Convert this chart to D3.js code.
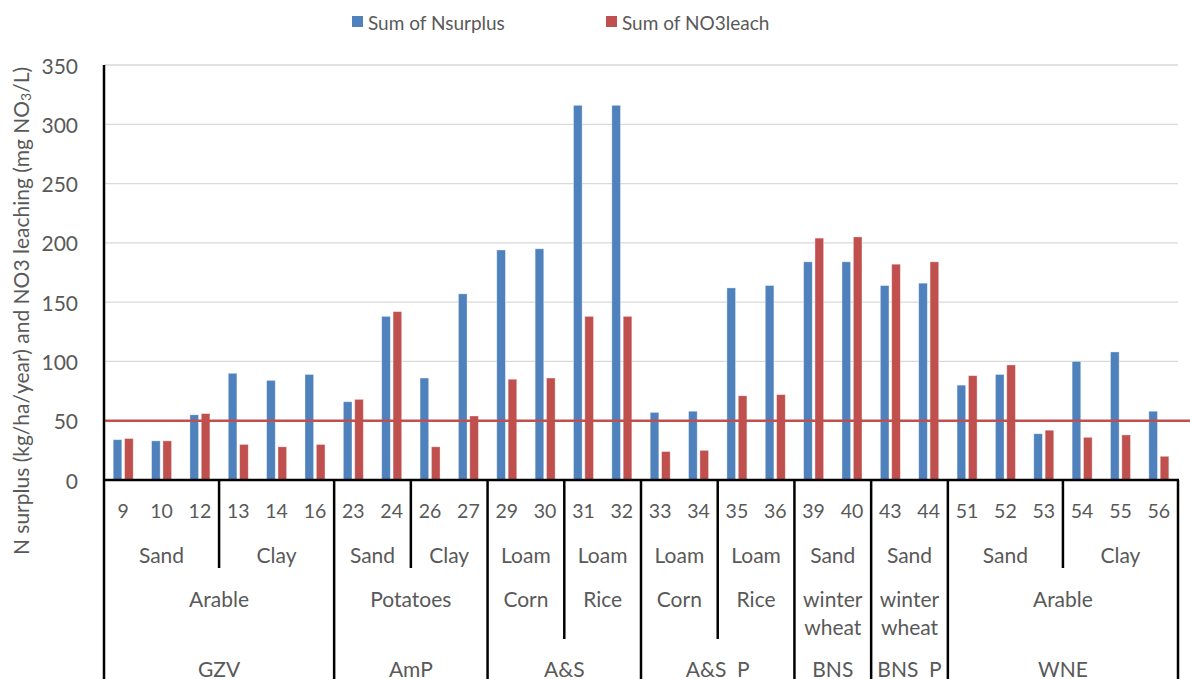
<html><head>
<title>N surplus and NO3 leaching</title>
<script src="https://d3js.org/d3.v7.min.js"></script>
<style>
  body { margin: 0; background: #fff; }
  svg text { font-family: Lato, "Open Sans", sans-serif; fill: #595959; }
</style>
</head>
<body>
<svg id="chart" width="1190" height="679"></svg>
<script>
// categories (one per bar pair) and their grouping levels
let ids     = ["9","10","12","13","14","16","23","24","26","27","29","30","31","32","33","34","35","36","39","40","43","44","51","52","53","54","55","56"];
let soils   = ["Sand","Sand","Sand","Clay","Clay","Clay","Sand","Sand","Clay","Clay","Loam","Loam","Loam","Loam","Loam","Loam","Loam","Loam","Sand","Sand","Sand","Sand","Sand","Sand","Sand","Clay","Clay","Clay"];
let crops   = ["Arable","Arable","Arable","Arable","Arable","Arable","Potatoes","Potatoes","Potatoes","Potatoes","Corn","Corn","Rice","Rice","Corn","Corn","Rice","Rice","winter wheat","winter wheat","winter wheat","winter wheat","Arable","Arable","Arable","Arable","Arable","Arable"];
let regions = ["GZV","GZV","GZV","GZV","GZV","GZV","AmP","AmP","AmP","AmP","A&S","A&S","A&S","A&S","A&S  P","A&S  P","A&S  P","A&S  P","BNS","BNS","BNS  P","BNS  P","WNE","WNE","WNE","WNE","WNE","WNE"];

// series values
let nsurplus = [34,33,55,90,84,89,66,138,86,157,194,195,316,316,57,58,162,164,184,184,164,166,80,89,39,100,108,58];
let no3leach = [35,33,56,30,28,30,68,142,28,54,85,86,138,138,24,25,71,72,204,205,182,184,88,97,42,36,38,20];
let limitValue = 50;

let seriesNames = ["Sum of Nsurplus", "Sum of NO3leach"];
let seriesColors = ["#4F81BD", "#C0504D"];
let yTicks = [0,50,100,150,200,250,300,350];

let svg = d3.select("#chart");

let plotLeft = 104, plotRight = 1178, plotTop = 65, plotBottom = 480;

let x0 = d3.scaleBand().domain(d3.range(ids.length)).range([plotLeft, plotRight]);
let x1 = d3.scaleBand().domain([0, 1]).range([9.2, 29.2]).paddingInner(0.24);
let y = d3.scaleLinear().domain([0, 350]).range([plotBottom, plotTop]);

// gridlines
svg.append("g").selectAll("line").data(yTicks.slice(1)).join("line")
    .attr("x1", plotLeft).attr("x2", plotRight)
    .attr("y1", d => y(d)).attr("y2", d => y(d))
    .attr("stroke", "#D9D9D9").attr("stroke-width", 1.3);

// y tick labels
svg.append("g").selectAll("text").data(yTicks).join("text")
    .attr("x", 78).attr("y", d => y(d))
    .attr("text-anchor", "end").attr("dominant-baseline", "central")
    .style("font-size", "21px")
    .text(d => d);

// bars
let rows = ids.map((id, i) => ({i: i, vals: [nsurplus[i], no3leach[i]]}));
let groups = svg.append("g").selectAll("g").data(rows).join("g")
    .attr("transform", d => "translate(" + x0(d.i) + ",0)");
groups.selectAll("rect").data(d => d.vals.map((v, k) => ({k: k, v: v}))).join("rect")
    .attr("x", d => x1(d.k))
    .attr("width", x1.bandwidth())
    .attr("y", d => y(d.v))
    .attr("height", d => y(0) - y(d.v))
    .attr("fill", d => seriesColors[d.k])
    .attr("stroke", "rgba(255,255,255,0.45)").attr("stroke-width", 0.8);

// limit line
svg.append("line")
    .attr("x1", plotLeft).attr("x2", 1190)
    .attr("y1", y(limitValue)).attr("y2", y(limitValue))
    .attr("stroke", "#C0504D").attr("stroke-width", 2.5);

// axes lines
svg.append("line").attr("x1", plotLeft).attr("x2", plotLeft).attr("y1", plotTop).attr("y2", 679)
    .attr("stroke", "#000").attr("stroke-width", 2.5);
svg.append("line").attr("x1", plotLeft - 1).attr("x2", plotRight + 1).attr("y1", plotBottom).attr("y2", plotBottom)
    .attr("stroke", "#000").attr("stroke-width", 2.5);

// multi-level category labels
let rowY = {id: 510, soil: 554, crop: 598, region: 668};
let lineEnd = {soil: 568, crop: 639, region: 679};

svg.append("g").selectAll("text").data(ids).join("text")
    .attr("x", (d, i) => x0(i) + x0.bandwidth() / 2)
    .attr("y", rowY.id)
    .attr("text-anchor", "middle").attr("dominant-baseline", "central")
    .style("font-size", "19.5px")
    .text(d => d);

function runs(keyFn) {
  let out = [];
  ids.forEach((d, i) => {
    let k = keyFn(i);
    if (out.length && out[out.length - 1].key === k) out[out.length - 1].end = i;
    else out.push({key: k, start: i, end: i});
  });
  return out;
}

let soilRuns = runs(i => regions[i] + "|" + crops[i] + "|" + soils[i]);
let cropRuns = runs(i => regions[i] + "|" + crops[i]);
let regionRuns = runs(i => regions[i]);

function spanCenter(r) { return (x0(r.start) + x0(r.end) + x0.bandwidth()) / 2; }

svg.append("g").selectAll("text").data(soilRuns).join("text")
    .attr("x", spanCenter).attr("y", rowY.soil)
    .attr("text-anchor", "middle").attr("dominant-baseline", "central")
    .style("font-size", "21px")
    .text(d => soils[d.start]);

let cropText = svg.append("g").selectAll("text").data(cropRuns).join("text")
    .attr("x", spanCenter).attr("y", rowY.crop)
    .attr("text-anchor", "middle").attr("dominant-baseline", "central")
    .style("font-size", "21px");
cropText.selectAll("tspan").data(d => crops[d.start].split(" ").map(w => ({w: w, x: spanCenter(d)}))).join("tspan")
    .attr("x", d => d.x)
    .attr("dy", (d, j) => j === 0 ? 0 : 28)
    .text(d => d.w);

svg.append("g").selectAll("text").data(regionRuns).join("text")
    .attr("x", spanCenter).attr("y", rowY.region)
    .attr("text-anchor", "middle").attr("dominant-baseline", "central")
    .style("font-size", "21px").style("white-space", "pre")
    .text(d => regions[d.start]);

// separator lines: length depends on which level changes
let seps = [];
for (let i = 1; i < ids.length; i++) {
  let level = null;
  if (regions[i] !== regions[i - 1]) level = "region";
  else if (crops[i] !== crops[i - 1]) level = "crop";
  else if (soils[i] !== soils[i - 1]) level = "soil";
  if (level) seps.push({x: x0(i), end: lineEnd[level]});
}
seps.push({x: plotRight, end: lineEnd.region});
svg.append("g").selectAll("line").data(seps).join("line")
    .attr("x1", d => d.x).attr("x2", d => d.x)
    .attr("y1", plotBottom).attr("y2", d => d.end)
    .attr("stroke", "#000").attr("stroke-width", 2.5);

// y axis title
let title = svg.append("text")
    .attr("transform", "translate(20,311) rotate(-90)")
    .attr("text-anchor", "middle").attr("dominant-baseline", "central")
    .style("font-size", "21px");
title.append("tspan").text("N surplus (kg/ha/year) and NO3 leaching (mg NO");
title.append("tspan").attr("dy", 5).style("font-size", "14px").text("3");
title.append("tspan").attr("dy", -5).text("/L)");

// legend
let legendX = [352, 606];
let legend = svg.append("g").selectAll("g").data(seriesNames).join("g")
    .attr("transform", (d, i) => "translate(" + legendX[i] + ",22)");
legend.append("rect").attr("x", 0).attr("y", -6).attr("width", 11).attr("height", 11)
    .attr("fill", (d, i) => seriesColors[i]);
legend.append("text").attr("x", 16).attr("y", 0)
    .attr("dominant-baseline", "central")
    .style("font-size", "19px")
    .text(d => d);
</script>
</body>
</html>
